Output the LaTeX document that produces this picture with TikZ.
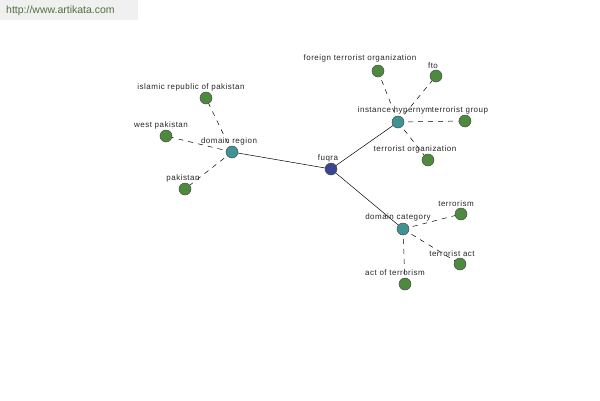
\documentclass[tikz,border=0pt]{standalone}
\usepackage{fontspec}
\setmainfont{Liberation Sans}
\newfontfamily\lblfont[LetterSpace=6]{Liberation Sans}
\definecolor{leafc}{HTML}{4E8A3E}
\definecolor{hubc}{HTML}{3F9393}
\definecolor{rootc}{HTML}{3A4690}
\definecolor{urlc}{HTML}{4F7040}
\begin{document}
\begin{tikzpicture}[x=1pt,y=-1pt,
  dot/.style={circle,draw=black!70,line width=0.5pt,minimum size=12pt,inner sep=0pt},
  leaf/.style={dot,fill=leafc},
  hub/.style={dot,fill=hubc},
  root/.style={dot,fill=rootc},
  lbl/.style={font=\lblfont\fontsize{8}{10}\selectfont,text=black!85,inner sep=0pt},
  solidedge/.style={draw=black,line width=0.5pt},
  dashedge/.style={draw=black,line width=0.5pt,dashed,dash pattern=on 5pt off 5pt}]
\useasboundingbox (0,0) rectangle (600,400);
\fill[black!6] (0,0) rectangle (138,20);
\node[font=\fontsize{10.5}{12}\selectfont,text=urlc,anchor=west,inner sep=0pt] (url) at (6,11) {http://www.artikata.com};
% coordinates
\coordinate (pfuqra) at (331,169);
\coordinate (pdr) at (232,152);
\coordinate (pih) at (398,122);
\coordinate (pdc) at (403,229);
\coordinate (pirp) at (206,98);
\coordinate (pwp) at (166,136);
\coordinate (ppk) at (185,189);
\coordinate (pfto1) at (378,71);
\coordinate (pfto) at (436,76);
\coordinate (ptg) at (465,121);
\coordinate (pto) at (428,160);
\coordinate (ptm) at (461,214);
\coordinate (pta) at (460,264);
\coordinate (paot) at (405,284);
% edges
\draw[solidedge] (pfuqra) -- (pdr);
\draw[solidedge] (pfuqra) -- (pih);
\draw[solidedge] (pfuqra) -- (pdc);
\draw[dashedge] (pdr) -- (pirp);
\draw[dashedge] (pdr) -- (pwp);
\draw[dashedge] (pdr) -- (ppk);
\draw[dashedge] (pih) -- (pfto1);
\draw[dashedge] (pih) -- (pfto);
\draw[dashedge] (pih) -- (ptg);
\draw[dashedge] (pih) -- (pto);
\draw[dashedge] (pdc) -- (ptm);
\draw[dashedge] (pdc) -- (pta);
\draw[dashedge] (pdc) -- (paot);
% nodes
\node[root] (fuqra) at (pfuqra) {};
\node[hub] (dr) at (pdr) {};
\node[hub] (ih) at (pih) {};
\node[hub] (dc) at (pdc) {};
\node[leaf] (irp) at (pirp) {};
\node[leaf] (wp) at (pwp) {};
\node[leaf] (pk) at (ppk) {};
\node[leaf] (fto1) at (pfto1) {};
\node[leaf] (fto) at (pfto) {};
\node[leaf] (tg) at (ptg) {};
\node[leaf] (to) at (pto) {};
\node[leaf] (tm) at (ptm) {};
\node[leaf] (ta) at (pta) {};
\node[leaf] (aot) at (paot) {};
% labels
\node[lbl] (lfuqra) at (328,158.5) {fuqra};
\node[lbl] (ldr) at (229,141.5) {domain region};
\node[lbl] (lih) at (395,110.5) {instance hypernym};
\node[lbl] (ldc) at (398,217.5) {domain category};
\node[lbl] (lirp) at (191,87.5) {islamic republic of pakistan};
\node[lbl] (lwp) at (161,125.5) {west pakistan};
\node[lbl] (lpk) at (183,178.5) {pakistan};
\node[lbl] (lfto1) at (360,58.5) {foreign terrorist organization};
\node[lbl] (lfto) at (433,65.5) {fto};
\node[lbl] (ltg) at (460,110.5) {terrorist group};
\node[lbl] (lto) at (415,149.5) {terrorist organization};
\node[lbl] (ltm) at (456,203.5) {terrorism};
\node[lbl] (lta) at (452,253.5) {terrorist act};
\node[lbl] (laot) at (395,272.5) {act of terrorism};
\end{tikzpicture}
\end{document}
